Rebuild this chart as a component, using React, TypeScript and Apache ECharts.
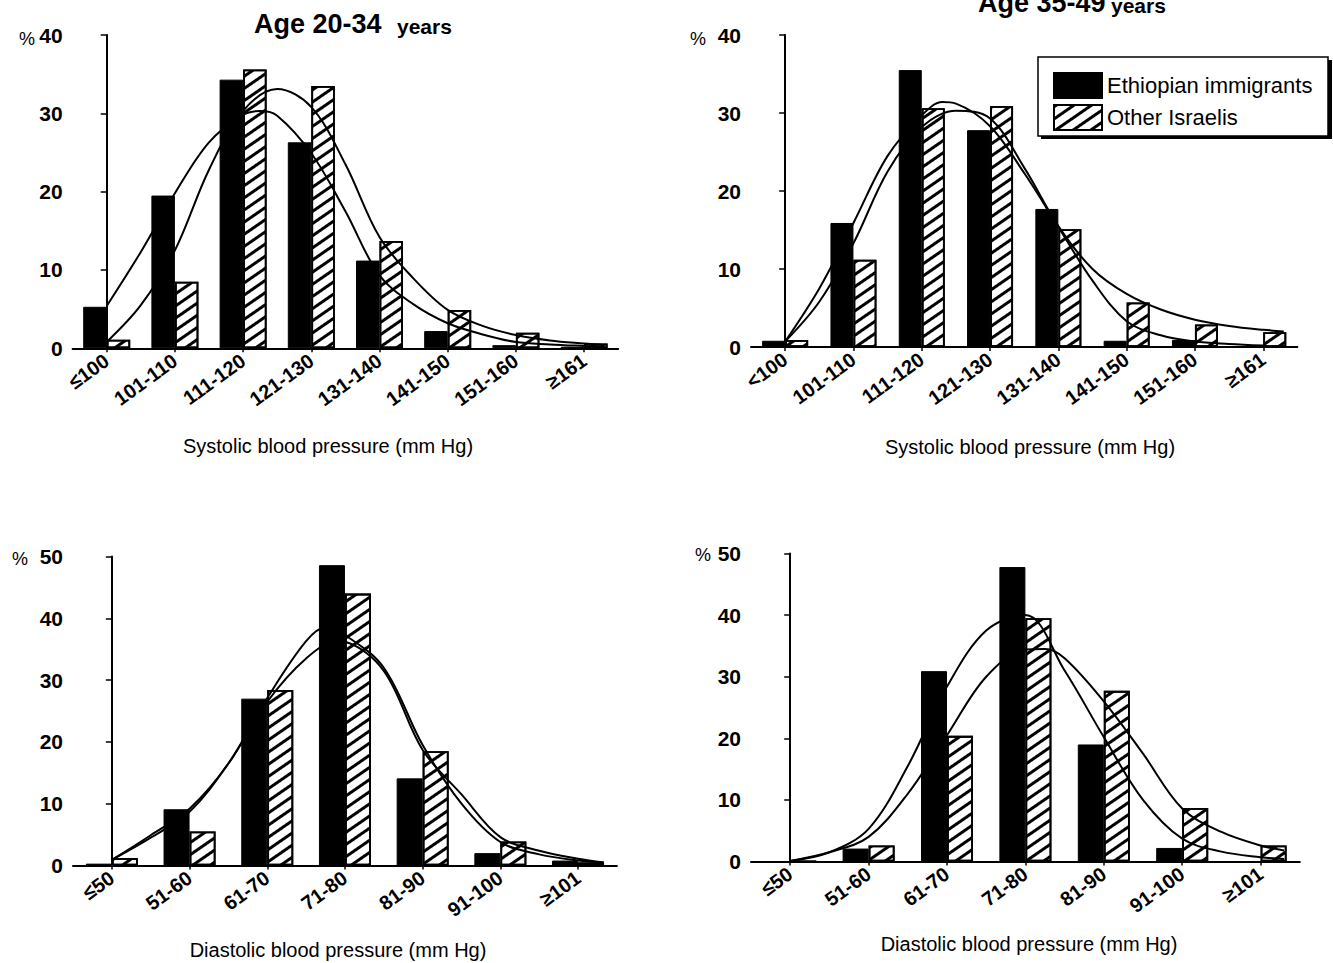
import React, { useEffect, useRef } from 'react';
import * as echarts from 'echarts';

const FONT = '"Liberation Sans", Arial, Helvetica, sans-serif';

// Categories
const systolicCatsA = ['≤100', '101-110', '111-120', '121-130', '131-140', '141-150', '151-160', '≥161'];
const systolicCatsB = ['<100', '101-110', '111-120', '121-130', '131-140', '141-150', '151-160', '≥161'];
const diastolicCats = ['≤50', '51-60', '61-70', '71-80', '81-90', '91-100', '≥101'];

// Bar values (%)
const sys2034Eth = [5.3, 19.5, 34.3, 26.3, 11.2, 2.2, 0.4, 0.2];
const sys2034Oth = [1.1, 8.5, 35.6, 33.5, 13.7, 4.9, 2.0, 0.6];
const sys3549Eth = [0.8, 15.9, 35.5, 27.8, 17.7, 0.8, 0.9, 0];
const sys3549Oth = [0.9, 11.2, 30.6, 30.9, 15.1, 5.7, 2.9, 1.9];
const dia2034Eth = [0.3, 9.1, 27.0, 48.6, 14.1, 2.0, 0.8];
const dia2034Oth = [1.2, 5.5, 28.4, 44.0, 18.5, 3.9, 0.5];
const dia3549Eth = [0, 2.1, 30.9, 47.8, 19.0, 2.2, 0];
const dia3549Oth = [0, 2.6, 20.4, 39.5, 27.7, 8.7, 2.6];

// Fitted curves: [category position, %]
const sys2034EthFit = [[0, 5.4], [0.5, 12.3], [1, 19.8], [1.5, 26.3], [2, 29.8], [2.25, 30.3], [2.5, 29.7], [3, 24.9], [3.5, 17.5], [4, 9.3], [4.5, 5.6], [5, 3.2], [5.5, 1.8], [6, 0.8], [6.5, 0.5], [7, 0.3], [7.3, 0.2]];
const sys2034OthFit = [[0, 0.8], [0.5, 5.5], [1, 12.5], [1.5, 22.8], [2, 30.3], [2.5, 33.1], [3, 30.8], [3.5, 23.5], [4, 14.2], [4.5, 8.9], [5, 4.9], [5.5, 2.9], [6, 1.7], [6.5, 1.0], [7, 0.6], [7.3, 0.4]];
const sys3549EthFit = [[0, 0.7], [0.5, 7.5], [1, 15.9], [1.5, 24.5], [2, 29.7], [2.3, 31.4], [2.5, 31.2], [3, 28.3], [3.5, 22.3], [4, 15.4], [4.5, 8.5], [5, 3.3], [5.5, 1.5], [6, 0.7], [6.5, 0.4], [7, 0.2]];
const sys3549OthFit = [[0, 0.7], [0.5, 5.8], [1, 13.3], [1.5, 22.5], [2, 28.2], [2.5, 30.3], [3, 29.3], [3.5, 23.0], [4, 15.5], [4.5, 10.0], [5, 6.8], [5.5, 4.8], [6, 3.5], [6.5, 2.7], [7, 2.2], [7.3, 2.0]];
const dia2034EthFit = [[0, 0.9], [0.5, 4.9], [1, 9.2], [1.5, 16.5], [2, 27.1], [2.5, 36.3], [2.75, 38.5], [3, 37.3], [3.5, 32.0], [4, 19.5], [4.5, 10.0], [5, 3.8], [5.5, 1.8], [6, 0.8], [6.33, 0.5]];
const dia2034OthFit = [[0, 0.9], [0.5, 4.5], [1, 8.7], [1.5, 16.5], [2, 26.5], [2.5, 33.5], [2.9, 36.3], [3, 36.2], [3.5, 31.5], [4, 18.7], [4.5, 11.5], [5, 4.6], [5.5, 2.4], [6, 1.1], [6.33, 0.5]];
const dia3549EthFit = [[0, 0.1], [0.5, 1.5], [1, 5.3], [1.5, 15.5], [2, 28.4], [2.5, 37.5], [3, 40.0], [3.5, 31.0], [4, 20.2], [4.5, 10.0], [5, 3.7], [5.5, 1.6], [6, 0.7], [6.3, 0.4]];
const dia3549OthFit = [[0, 0.1], [0.5, 1.5], [1, 4.0], [1.5, 11.0], [2, 20.5], [2.5, 30.0], [3, 34.4], [3.25, 34.5], [3.5, 33.0], [4, 26.0], [4.5, 17.5], [5, 8.6], [5.5, 4.8], [6, 2.6], [6.3, 1.8]];

const yMaxSys = 40;
const yMaxDia = 50;
const yStep = 10;

const panels = [
  { cats: systolicCatsA, eth: sys2034Eth, oth: sys2034Oth, ethFit: sys2034EthFit, othFit: sys2034OthFit, yMax: yMaxSys, grid: { left: 72.6, top: 35, width: 545.6, height: 313.3 }, barWidth: 23.5 },
  { cats: systolicCatsB, eth: sys3549Eth, oth: sys3549Oth, ethFit: sys3549EthFit, othFit: sys3549OthFit, yMax: yMaxSys, grid: { left: 751, top: 35, width: 546.4, height: 312 }, barWidth: 23 },
  { cats: diastolicCats, eth: dia2034Eth, oth: dia2034Oth, ethFit: dia2034EthFit, othFit: dia2034OthFit, yMax: yMaxDia, grid: { left: 73, top: 556.5, width: 543.9, height: 309 }, barWidth: 26 },
  { cats: diastolicCats, eth: dia3549Eth, oth: dia3549Oth, ethFit: dia3549EthFit, othFit: dia3549OthFit, yMax: yMaxDia, grid: { left: 751, top: 553.5, width: 548.8, height: 308 }, barWidth: 26 },
];

const blackStyle = { color: '#000', borderColor: '#000', borderWidth: 1 };
const hatchStyle = {
  color: '#fff',
  borderColor: '#000',
  borderWidth: 1.8,
  decal: {
    symbol: 'rect',
    symbolSize: 1,
    dashArrayX: [1, 0],
    dashArrayY: [2.6, 6.4],
    rotation: -Math.PI / 5.2,
    color: '#000',
    backgroundColor: '#fff',
  },
};

function txt(text: string, x: number, y: number, size: number, weight: string, align: string) {
  return {
    type: 'text',
    x,
    y,
    z: 10,
    style: {
      text,
      fontSize: size,
      fontWeight: weight,
      fontFamily: FONT,
      fill: '#000',
      align,
      textAlign: align,
      verticalAlign: 'middle',
      textVerticalAlign: 'middle',
    },
  };
}

function buildOption() {
  const grid: any[] = [];
  const xAxis: any[] = [];
  const yAxis: any[] = [];
  const series: any[] = [];
  panels.forEach((p, i) => {
    grid.push({ ...p.grid });
    xAxis.push({
      type: 'category',
      gridIndex: i,
      data: p.cats,
      axisLine: { show: true, lineStyle: { color: '#000', width: 2 } },
      axisTick: { show: true, alignWithLabel: true, length: 4, lineStyle: { color: '#000', width: 1.5 } },
      axisLabel: { interval: 0, rotate: 36, fontSize: 20, fontWeight: 'bold', fontFamily: FONT, color: '#000', margin: 10 },
      splitLine: { show: false },
    });
    xAxis.push({ type: 'value', gridIndex: i, min: -0.5, max: p.cats.length - 0.5, show: false });
    yAxis.push({
      type: 'value',
      gridIndex: i,
      min: 0,
      max: p.yMax,
      interval: yStep,
      axisLine: { show: true, lineStyle: { color: '#000', width: 2 } },
      axisTick: { show: true, length: 6, lineStyle: { color: '#000', width: 1.5 } },
      axisLabel: { fontSize: 21, fontWeight: 'bold', fontFamily: FONT, color: '#000', margin: 10 },
      splitLine: { show: false },
    });
    series.push({ type: 'bar', name: 'Ethiopian immigrants', xAxisIndex: 2 * i, yAxisIndex: i, data: p.eth, barWidth: p.barWidth, barGap: '0%', itemStyle: blackStyle, z: 2 });
    series.push({ type: 'bar', name: 'Other Israelis', xAxisIndex: 2 * i, yAxisIndex: i, data: p.oth, barWidth: p.barWidth, barGap: '0%', itemStyle: hatchStyle, z: 2 });
    series.push({ type: 'line', name: 'Ethiopian immigrants fit', xAxisIndex: 2 * i + 1, yAxisIndex: i, data: p.ethFit, smooth: 0.35, symbol: 'none', showSymbol: false, lineStyle: { color: '#000', width: 2 }, z: 5 });
    series.push({ type: 'line', name: 'Other Israelis fit', xAxisIndex: 2 * i + 1, yAxisIndex: i, data: p.othFit, smooth: 0.35, symbol: 'none', showSymbol: false, lineStyle: { color: '#000', width: 2 }, z: 5 });
  });

  const graphic: any[] = [
    { type: 'rect', z: 0, shape: { x: 1041, y: 60, width: 291, height: 79 }, style: { fill: '#000' } },
    { type: 'rect', z: 1, shape: { x: 1038, y: 57, width: 290, height: 79 }, style: { fill: '#fff', stroke: '#000', lineWidth: 1.5 } },
    txt('Age 20-34', 254, 24, 27, 'bold', 'left'),
    txt('years', 397, 26, 21, 'bold', 'left'),
    txt('Age 35-49', 978, 3, 27, 'bold', 'left'),
    txt('years', 1111, 5, 21, 'bold', 'left'),
    txt('%', 19, 39, 18, 'normal', 'left'),
    txt('%', 690, 39, 18, 'normal', 'left'),
    txt('%', 12, 559, 18, 'normal', 'left'),
    txt('%', 695, 555, 18, 'normal', 'left'),
    txt('Systolic blood pressure (mm Hg)', 328, 446, 20, 'normal', 'center'),
    txt('Systolic blood pressure (mm Hg)', 1030, 447, 20, 'normal', 'center'),
    txt('Diastolic blood pressure (mm Hg)', 338, 950, 20, 'normal', 'center'),
    txt('Diastolic blood pressure (mm Hg)', 1029, 944, 20, 'normal', 'center'),
  ];

  return {
    animation: false,
    backgroundColor: '#fff',
    grid,
    xAxis,
    yAxis,
    series,
    graphic,
    legend: {
      data: ['Ethiopian immigrants', 'Other Israelis'],
      orient: 'vertical',
      left: 1053,
      top: 72,
      itemWidth: 48,
      itemHeight: 25,
      itemGap: 5,
      icon: 'rect',
      padding: 0,
      selectedMode: false,
      z: 8,
      textStyle: { fontSize: 22, color: '#000', fontFamily: FONT, padding: [0, 0, 0, 0] },
    },
  };
}

export default function App() {
  const ref = useRef<HTMLDivElement>(null);
  useEffect(() => {
    if (!ref.current) return;
    const chart = echarts.init(ref.current, undefined, { renderer: 'svg' });
    chart.setOption(buildOption() as any);
    return () => chart.dispose();
  }, []);
  return (
    <div
      ref={ref}
      style={{ position: 'absolute', left: 0, top: 0, width: 1333, height: 963, background: '#fff' }}
    />
  );
}
